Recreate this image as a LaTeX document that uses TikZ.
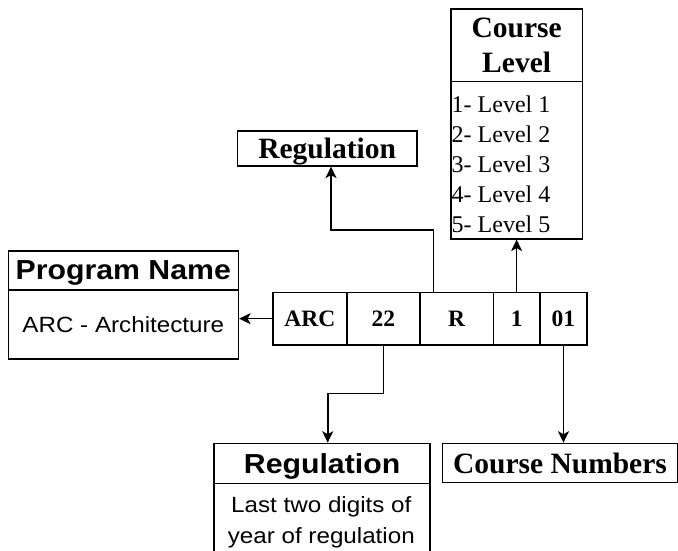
\documentclass[tikz,border=0pt]{standalone}
\usepackage{fontspec}
\setmainfont{Liberation Serif}
\newfontfamily\sansfont[FakeStretch=1.1]{Liberation Sans}
\usetikzlibrary{arrows.meta,calc}
\tikzset{
  box/.style={draw, line width=1.6pt, inner sep=0pt, anchor=north west},
  arr/.style={draw, line width=1.6pt, -{Stealth[length=11.5pt,width=11pt,inset=3pt]}},
  serifhead/.style={font=\fontsize{29.5}{35.3}\selectfont\bfseries, text depth=0pt},
  sanshead/.style={font=\sansfont\fontsize{27.5}{30}\selectfont\bfseries, text depth=0pt},
  sansbody/.style={font=\sansfont\fontsize{22}{31.6}\selectfont},
  codecell/.style={box, minimum height=52.3pt, font=\fontsize{23.5}{28}\selectfont\bfseries},
}
\begin{document}
\begin{tikzpicture}[x=1pt,y=-1pt]
\useasboundingbox (0,0) rectangle (678,551);
\clip (0,0) rectangle (678,551);

% code row
\node[codecell, minimum width=74pt]   (arc)   at (272,291.7)   {ARC};
\node[codecell, minimum width=73pt]   (c22)   at (346,291.7)   {22};
\node[codecell, minimum width=73.7pt] (rcell) at (419,291.7)   {R};
\node[codecell, minimum width=46.3pt] (one)   at (492.7,291.7) {1};
\node[codecell, minimum width=47.3pt] (c01)   at (539,291.7)   {01};

% program name
\node[box, sanshead, minimum width=230pt, minimum height=39pt] (pnHead) at (7.5,250) {Program Name};
\node[box, sansbody, minimum width=230pt, minimum height=69pt] (pnBody) at (7.5,289) {ARC - Architecture};

% regulation (top)
\node[box, serifhead, minimum width=179.3pt, minimum height=35pt] (regTop) at (236.7,130) {Regulation};

% course level
\node[box, serifhead, align=center, minimum width=131.7pt, minimum height=72.4pt] (lvlHead) at (450,8.3) {Course\\Level};
\node[box, minimum width=131.7pt, minimum height=157.3pt] (lvlBody) at (450,80.7) {};
\node[anchor=north west, inner sep=0pt, align=left, font=\fontsize{24}{30}\selectfont] (lvlList) at (451.5,95.5)
  {1- Level 1\\2- Level 2\\3- Level 3\\4- Level 4\\5- Level 5};

% regulation (bottom)
\node[box, sanshead, minimum width=216pt, minimum height=40pt] (regBotHead) at (213.3,442.7) {Regulation};
\node[box, minimum width=216pt, minimum height=90pt] (regBotBody) at (213.3,482.7) {};
\node[anchor=north, inner sep=0pt, align=center, sansbody] (regBotText) at (321.3,496)
  {Last two digits of\\year of regulation};

% course numbers
\node[box, serifhead, minimum width=235pt, minimum height=39pt] (cnum) at (441.7,442.7) {Course Numbers};

% connectors
\coordinate (bendA) at (331,230);
\coordinate (bendB) at (327.7,393.3);
\draw[arr] (arc.west) -- (arc.west -| pnBody.east);
\draw[arr] ([xshift=14.3pt]rcell.north west) |- (bendA) -- (bendA |- regTop.south);
\draw[arr] (one.north) -- (one.north |- lvlBody.south);
\draw[arr] (c22.south) |- (bendB) -- (bendB |- regBotHead.north);
\draw[arr] (c01.south) -- (c01.south |- cnum.north);
\end{tikzpicture}
\end{document}
